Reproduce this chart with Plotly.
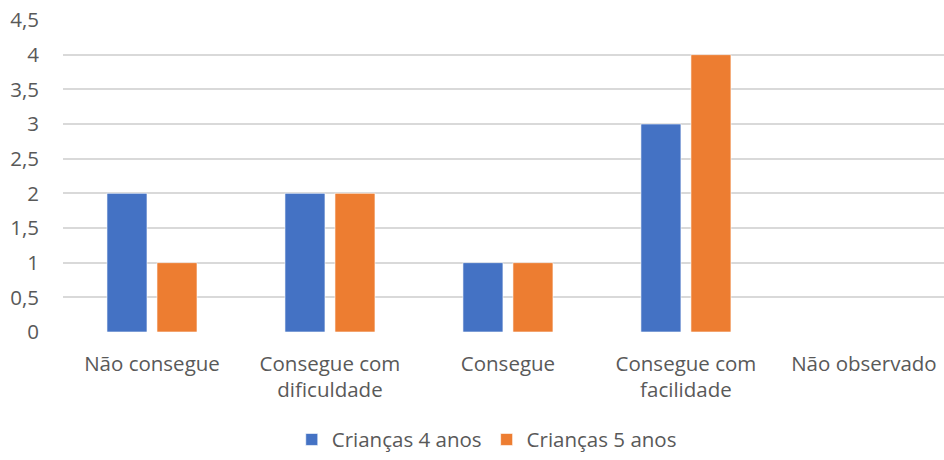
import plotly.graph_objects as go

categories = ["Não consegue", "Consegue com<br>dificuldade", "Consegue", "Consegue com<br>facilidade", "Não observado"]
series_names = ["Crianças 4 anos", "Crianças 5 anos"]
values_4 = [2, 2, 1, 3, 0]
values_5 = [1, 2, 1, 4, 0]
y_tick_vals = [0, 0.5, 1, 1.5, 2, 2.5, 3, 3.5, 4, 4.5]
y_tick_text = ["0", "0,5", "1", "1,5", "2", "2,5", "3", "3,5", "4", "4,5"]

colors = ["#4472C4", "#ED7D31"]
FONT = "'Open Sans', sans-serif"
TXT = "#595959"
FS = 20.5

fig = go.Figure()
for name, vals, col in zip(series_names, [values_4, values_5], colors):
    fig.add_trace(go.Bar(
        x=list(range(len(categories))), y=vals, name=name,
        marker=dict(color=col, line=dict(color="rgba(255,255,255,0.6)", width=1)),
    ))

fig.update_layout(
    width=944, height=460,
    margin=dict(l=63, r=0, t=20, b=128),
    paper_bgcolor="white", plot_bgcolor="white",
    barmode="group", bargap=0.438, bargroupgap=0.2,
    font=dict(family=FONT, size=FS, color=TXT),
    showlegend=True,
    legend=dict(orientation="h", x=0.481, xanchor="center", y=-0.345, yanchor="middle",
                font=dict(family=FONT, size=FS, color=TXT), itemwidth=30,
                traceorder="normal", tracegroupgap=0),
    xaxis=dict(
        range=[-0.5, 4.45],
        tickmode="array", tickvals=list(range(len(categories))), ticktext=categories,
        showgrid=False, zeroline=False, showline=False, ticks="", ticklabelstandoff=17,
        tickfont=dict(family=FONT, size=FS, color=TXT),
    ),
    yaxis=dict(
        range=[0, 4.5],
        tickmode="array", tickvals=y_tick_vals, ticktext=y_tick_text,
        showgrid=True, gridcolor="#D9D9D9", gridwidth=1.5,
        zeroline=False, showline=False, ticks="", ticklabelstandoff=23,
        tickfont=dict(family=FONT, size=FS, color=TXT),
    ),
)

fig.write_html("out.html")
